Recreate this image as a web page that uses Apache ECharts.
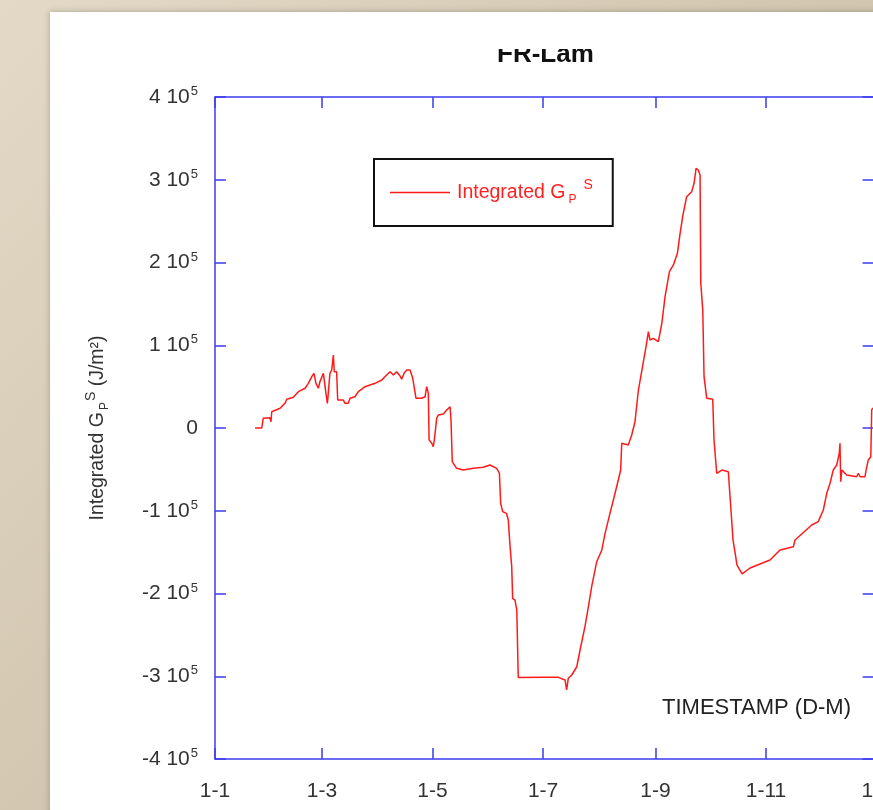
<!DOCTYPE html>
<html>
<head>
<meta charset="utf-8">
<script src="https://cdn.jsdelivr.net/npm/echarts@6/dist/echarts.min.js"></script>
<style>
html,body{margin:0;padding:0;}
#c{width:873px;height:810px;}
</style>
</head>
<body>
<div id="c"></div>
<script>
// Day of year (0 = 1 January) and integrated G_P^S values (J/m²)
const days = [22.1,25.8,26.6,30.3,30.9,31.3,35.9,38.6,39.6,43.2,46.0,49.7,51.5,53.4,54.6,55.2,55.7,57.0,57.9,59.8,
60.7,61.2,62.0,62.5,63.4,64.4,65.3,65.8,67.1,67.7,70.8,71.7,73.5,74.5,77.2,79.1,82.8,85.5,88.3,89.2,
92.0,94.7,96.6,98.4,100.2,102.1,103.0,104.3,105.8,107.6,109.1,110.3,110.9,114.0,115.9,116.8,117.7,118.1,119.6,120.4,
121.0,122.3,123.2,126.0,127.8,129.7,130.2,130.9,133.3,137.0,142.5,148.0,151.7,155.4,156.9,157.6,158.7,160.8,161.8,162.8,
163.7,164.2,165.5,166.5,167.3,181.1,189.4,193.1,194.0,194.9,196.8,199.6,201.4,204.1,206.0,207.8,210.6,213.4,215.2,217.9,
220.7,222.5,223.8,224.4,228.0,229.9,231.7,233.6,236.0,237.8,239.1,240.0,241.8,244.6,246.5,248.3,250.7,252.9,255.1,256.6,
258.0,260.2,263.0,264.3,265.4,266.6,267.6,268.0,269.1,269.8,271.3,274.6,275.3,276.8,279.6,283.2,284.1,285.8,288.0,290.8,
295.2,306.2,311.7,319.1,320.0,329.2,332.8,335.6,337.5,339.3,341.1,343.0,344.4,344.8,345.2,345.8,348.5,354.0,354.9,355.9,
358.6,359.2,360.4,361.8,362.3,363.0];
const values = [0,0,11700,12400,7600,19700,23800,29800,34700,37100,43900,48000,54000,62000,66100,68000,54000,48000,56000,66100,
66100,41900,29800,41900,66100,70100,88200,68000,68000,33800,33800,29800,29800,35900,37800,43900,49900,52000,54000,52000,
58000,64000,68000,64000,68000,62800,58900,66100,70100,70100,60100,43900,35900,35900,37800,50000,41900,-14500,-18500,-22600,
-14500,11700,15700,16900,21800,25700,9700,-40700,-48700,-50800,-48700,-47500,-44700,-48700,-54700,-91000,-101100,-103100,-111200,-143400,
-167600,-205800,-207900,-219900,-301500,-301300,-301300,-304500,-316600,-302500,-298500,-288500,-268300,-240100,-216000,-191800,-161600,-147400,-127300,-103100,
-78900,-62800,-50800,-18500,-20500,-8500,7600,45900,76100,98200,116400,106300,108400,104300,126500,158700,188900,197000,211100,235300,
255400,279500,285600,295700,313800,311800,305700,174900,142600,62000,35900,34700,-14500,-54700,-50800,-52800,-53200,-135400,-165600,-176400,
-169200,-159500,-147400,-143400,-135400,-117200,-113200,-99100,-78900,-66800,-50800,-44700,-30600,-18500,-64900,-50800,-56800,-58900,-54700,-58900,
-58900,-50800,-38700,-34700,21800,24200];
const tickDays = [0,59,120,181,243,304,365];
const tickLabels = ['1-1','1-3','1-5','1-7','1-9','1-11','1-1'];
const seriesName = 'Integrated GPS';

const chart = echarts.init(document.getElementById('c'));
const FONT = 'Liberation Sans, Arial, sans-serif';
const AX = '#3c3cf0';
const data = days.map((d, i) => [d, values[i]]);

chart.setOption({
  animation: false,
  backgroundColor: {
    type: 'linear', x: 0, y: 0, x2: 1, y2: 1,
    colorStops: [{offset: 0, color: '#e3d9c6'}, {offset: 0.5, color: '#d2c6b0'}, {offset: 1, color: '#c8bca6'}]
  },
  textStyle: {fontFamily: FONT},
  graphic: [
    {type: 'rect', z: -100, shape: {x: 50, y: 12, width: 830, height: 810}, style: {fill: '#ffffff', shadowColor: 'rgba(0,0,0,0.25)', shadowBlur: 6}},
    {type: 'text', z: 10, top: 42, left: 497, style: {text: 'FR-Lam', font: 'bold 26px ' + FONT, fill: '#111'}},
    {type: 'rect', z: 11, shape: {x: 480, y: 20, width: 140, height: 29}, style: {fill: '#ffffff'}},
    {type: 'text', z: 10, left: 662, top: 697, style: {text: 'TIMESTAMP (D-M)', font: '22px ' + FONT, fill: '#222'}}
  ],
  grid: {left: 215, top: 97, width: 661.6, height: 662, outerBoundsMode: 'none', containLabel: false},
  legend: {
    left: 374, top: 159,
    padding: [19, 20, 20, 16],
    borderColor: '#111', borderWidth: 2,
    backgroundColor: '#fff',
    icon: 'rect', itemWidth: 60, itemHeight: 1.5, itemGap: 0,
    data: [seriesName],
    formatter: () => '{a|Integrated G}{sub|P}{sup|S}',
    textStyle: {
      color: '#ff2020', fontFamily: FONT, fontSize: 19, padding: [0, 0, 0, 2],
      rich: {
        a: {fontSize: 19.5, color: '#ff2020', fontFamily: FONT},
        sub: {fontSize: 12, color: '#ff2020', fontFamily: FONT, padding: [15, 0, 0, 3]},
        sup: {fontSize: 14, color: '#ff2020', fontFamily: FONT, padding: [0, 0, 15, 7]}
      }
    }
  },
  xAxis: [
    {
      type: 'value', min: 0, max: 365, position: 'bottom',
      axisLine: {show: true, onZero: false, lineStyle: {color: AX, width: 1.5}},
      axisTick: {show: true, inside: true, length: 11, lineStyle: {color: AX, width: 1.5}, customValues: tickDays},
      axisLabel: {
        customValues: tickDays, margin: 22, fontSize: 21, color: '#333', fontFamily: FONT,
        formatter: (v) => tickLabels[tickDays.indexOf(v)]
      },
      splitLine: {show: false}
    },
    {
      type: 'value', min: 0, max: 365, position: 'top',
      axisLine: {show: true, onZero: false, lineStyle: {color: AX, width: 1.5}},
      axisTick: {show: true, inside: true, length: 11, lineStyle: {color: AX, width: 1.5}, customValues: tickDays},
      axisLabel: {show: false, customValues: tickDays},
      splitLine: {show: false}
    }
  ],
  yAxis: [
    {
      type: 'value', min: -400000, max: 400000, interval: 100000, position: 'left',
      axisLine: {show: true, onZero: false, lineStyle: {color: AX, width: 1.5}},
      axisTick: {show: true, inside: true, length: 11, lineStyle: {color: AX, width: 1.5}},
      splitLine: {show: false},
      axisLabel: {
        margin: 17, color: '#333', fontFamily: FONT,
        formatter: (v) => v === 0 ? '{n|0}' : '{n|' + (v / 100000) + ' 10}{e|5}',
        rich: {
          n: {fontSize: 21, color: '#333', fontFamily: FONT},
          e: {fontSize: 13, color: '#333', fontFamily: FONT, padding: [0, 0, 11, 1]}
        }
      },
      name: '{a|Integrated G}{sub|P}{sup|S}{a| (J/m²)}',
      nameLocation: 'middle', nameGap: 103, nameRotate: 90,
      nameTextStyle: {
        color: '#333', fontFamily: FONT,
        rich: {
          a: {fontSize: 19.5, color: '#333', fontFamily: FONT},
          sub: {fontSize: 12, color: '#333', fontFamily: FONT, padding: [14, 0, 0, 2]},
          sup: {fontSize: 14, color: '#333', fontFamily: FONT, padding: [0, 0, 14, 1]}
        }
      }
    },
    {
      type: 'value', min: -400000, max: 400000, interval: 100000, position: 'right',
      axisLine: {show: true, onZero: false, lineStyle: {color: AX, width: 1.5}},
      axisTick: {show: true, inside: true, length: 14, lineStyle: {color: AX, width: 1.5}},
      axisLabel: {show: false},
      splitLine: {show: false}
    }
  ],
  series: [{
    name: seriesName,
    type: 'line',
    data: data,
    symbol: 'none',
    lineStyle: {color: '#ff1a1a', width: 1.5},
    itemStyle: {color: '#ff1a1a'},
    z: 5
  }]
});
</script>
</body>
</html>
